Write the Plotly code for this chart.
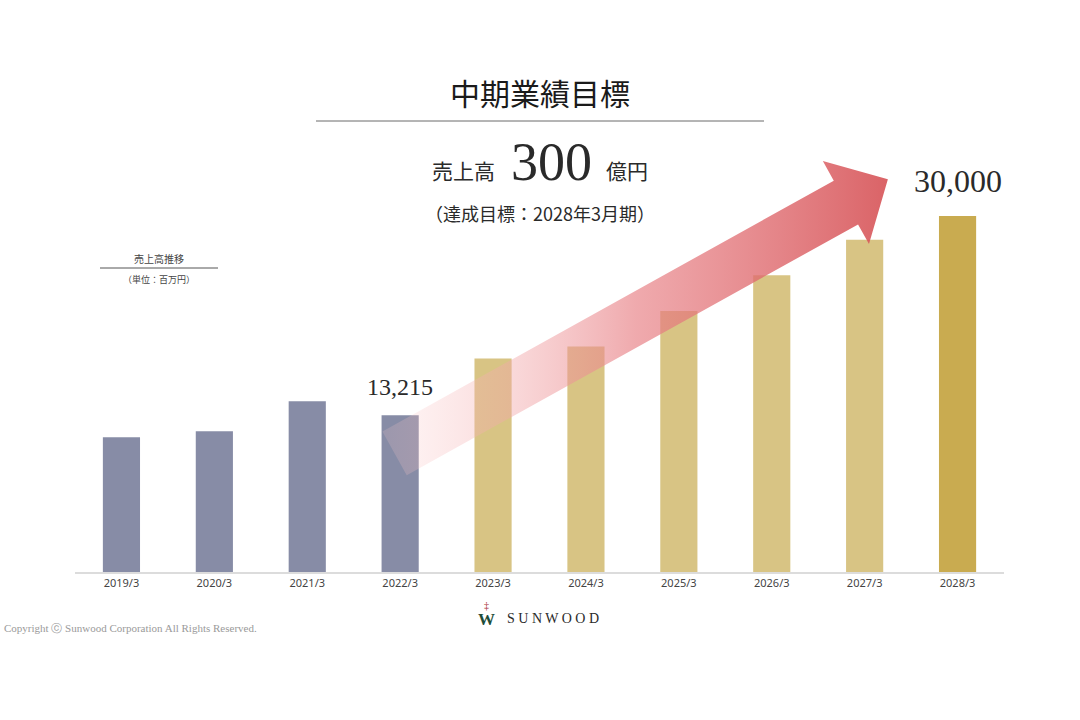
import math
import plotly.graph_objects as go

# Sales per fiscal year (million yen); 2023/3 onward are plan figures
PERIODS = ["2019/3", "2020/3", "2021/3", "2022/3", "2023/3",
           "2024/3", "2025/3", "2026/3", "2027/3", "2028/3"]
SALES = [11360, 11870, 14390, 13215, 18000, 19000, 22000, 25000, 28000, 30000]
KIND = ["actual"] * 4 + ["plan"] * 5 + ["target"]

# Labelled bars
LABELLED = {3: "13,215", 9: "30,000"}

# Arrow from the 2022/3 bar up to the 2028 target (data units)
ARROW_FROM = (2.94, 10000)
ARROW_TO = (8.25, 33100)

COLORS = {"actual": "#878CA6", "plan": "#D8C484", "target": "#C9AB50"}
JP_FONT = "Noto Sans CJK JP"
SERIF = "Liberation Serif"

# Plot area in page pixels (1080x720 window, body margin removed below)
PLOT_L, PLOT_R, PLOT_T, PLOT_B = 75, 1004, 144, 572
FIG_W, FIG_H = 1080, 720
Y_MAX = 36070


def paper_x(px):
    return (px - PLOT_L) / (PLOT_R - PLOT_L)


def paper_y(py):
    return (PLOT_B - py) / (PLOT_B - PLOT_T)


def data_to_px(x, y):
    px = PLOT_L + (x + 0.5) / len(PERIODS) * (PLOT_R - PLOT_L)
    py = PLOT_B - y / Y_MAX * (PLOT_B - PLOT_T)
    return px, py


def px_to_data(px, py):
    x = (px - PLOT_L) / (PLOT_R - PLOT_L) * len(PERIODS) - 0.5
    y = (PLOT_B - py) / (PLOT_B - PLOT_T) * Y_MAX
    return x, y


def arrow_polygon(start, end, shaft=50, head_w=95, head_len=48):
    ax, ay = data_to_px(*start)
    bx, by = data_to_px(*end)
    length = math.hypot(bx - ax, by - ay)
    ux, uy = (bx - ax) / length, (by - ay) / length
    nx, ny = -uy, ux
    hx, hy = bx - ux * head_len, by - uy * head_len
    s, h = shaft / 2, head_w / 2
    pts = [
        (ax + nx * s, ay + ny * s),
        (hx + nx * s, hy + ny * s),
        (hx + nx * h, hy + ny * h),
        (bx, by),
        (hx - nx * h, hy - ny * h),
        (hx - nx * s, hy - ny * s),
        (ax - nx * s, ay - ny * s),
    ]
    pts.append(pts[0])
    data = [px_to_data(px, py) for px, py in pts]
    return [p[0] for p in data], [p[1] for p in data]


fig = go.Figure()

fig.add_trace(go.Bar(
    x=list(range(len(PERIODS))),
    y=SALES,
    width=0.4,
    marker=dict(color=[COLORS[k] for k in KIND], line_width=0),
    hovertemplate="%{customdata}: %{y:,}<extra></extra>",
    customdata=PERIODS,
))

# Gradient arrow on top of the bars
arrow_x, arrow_y = arrow_polygon(ARROW_FROM, ARROW_TO)
fig.add_trace(go.Scatter(
    x=arrow_x, y=arrow_y,
    mode="lines",
    line=dict(width=0),
    fill="toself",
    fillgradient=dict(
        type="horizontal",
        colorscale=[
            [0.0, "rgba(252,205,205,0.18)"],
            [0.5, "rgba(232,130,135,0.68)"],
            [1.0, "rgba(214,82,86,0.90)"],
        ],
    ),
    hoverinfo="skip",
))

for i, label in LABELLED.items():
    fig.add_annotation(
        x=i, y=SALES[i], xref="x", yref="y",
        text=label, showarrow=False,
        yanchor="middle", yshift=28 if i < 9 else 35,
        font=dict(family=SERIF, size=24 if i < 9 else 32, color="#2a2a2a"),
    )

texts = [
    # (text, px, py, family, size, color)
    ("中期業績目標", 540, 92, JP_FONT, 30, "#1a1a1a"),
    ("売上高", 463, 170, JP_FONT, 21, "#2a2a2a"),
    ("300", 551, 162, SERIF, 54, "#2a2a2a"),
    ("億円", 627, 170, JP_FONT, 21, "#2a2a2a"),
    ("（達成目標：2028年3月期）", 540, 213, JP_FONT, 18, "#2a2a2a"),
    ("売上高推移", 159, 258, JP_FONT, 10, "#444444"),
    ("（単位：百万円）", 159, 279, JP_FONT, 9, "#444444"),
    ("S U N W O O D", 553, 618, SERIF, 14, "#2a2a2a"),
    ("<b>W</b>", 486, 619, SERIF, 17, "#1E4D3A"),
    ("‡", 486, 605, SERIF, 10, "#A3222A"),
]
for text, x, y, family, size, color in texts:
    fig.add_annotation(
        x=paper_x(x), y=paper_y(y), xref="paper", yref="paper",
        text=text, showarrow=False, xanchor="center", yanchor="middle",
        font=dict(family=family, size=size, color=color),
    )

fig.add_annotation(
    x=paper_x(2), y=paper_y(628), xref="paper", yref="paper",
    text="Copyright ⓒ Sunwood Corporation All Rights Reserved.",
    showarrow=False, xanchor="left", yanchor="middle",
    font=dict(family=SERIF, size=11, color="#9a9a9a"),
)

# Rules under the title and the small legend caption
fig.add_shape(type="line", xref="paper", yref="paper",
              x0=paper_x(316), x1=paper_x(764), y0=paper_y(121), y1=paper_y(121),
              line=dict(color="#6a6a6a", width=1))
fig.add_shape(type="line", xref="paper", yref="paper",
              x0=paper_x(100), x1=paper_x(218), y0=paper_y(268), y1=paper_y(268),
              line=dict(color="#555555", width=1))

fig.update_layout(
    width=FIG_W, height=FIG_H,
    paper_bgcolor="white", plot_bgcolor="white",
    margin=dict(l=PLOT_L, r=FIG_W - PLOT_R, t=PLOT_T, b=FIG_H - PLOT_B),
    showlegend=False,
    xaxis=dict(
        range=[-0.5, len(PERIODS) - 0.5],
        tickmode="array",
        tickvals=list(range(len(PERIODS))),
        ticktext=PERIODS,
        tickfont=dict(family="Noto Sans", size=11, color="#444444"),
        showgrid=False, zeroline=False,
        showline=True, linecolor="#DCDCDC", linewidth=2,
        ticks="", fixedrange=True,
    ),
    yaxis=dict(range=[0, Y_MAX], visible=False, fixedrange=True),
)

fig.write_html("out.html", config={"displayModeBar": False},
               post_script="document.body.style.margin = '0';")
